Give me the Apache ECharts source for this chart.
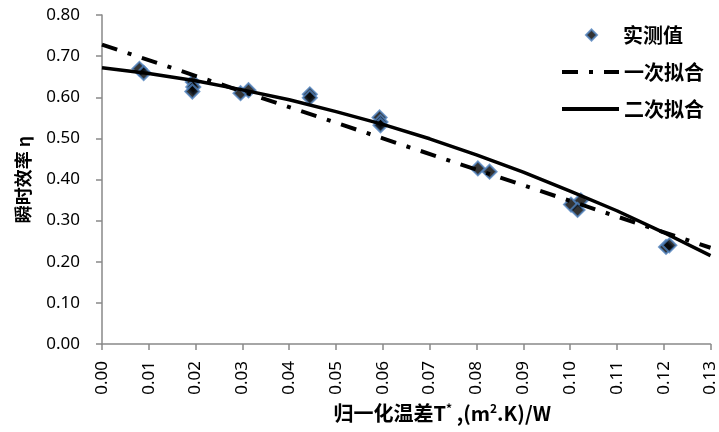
<!DOCTYPE html>
<html><head><meta charset="utf-8">
<script src="https://cdn.jsdelivr.net/npm/echarts@6/dist/echarts.min.js"></script>
<style>html,body{margin:0;padding:0;background:#fff}#c{width:719px;height:432px}</style>
</head><body><div id="c"></div>
<script>
// measured points (x, eta)
const measuredX = [0.0080,0.0089,0.0194,0.0195,0.0193,0.0296,0.0313,0.0444,0.0444,0.0593,0.0595,0.0595,0.0803,0.0828,0.1002,0.1023,0.1016,0.1205,0.1212];
const measuredY = [0.669,0.659,0.637,0.625,0.614,0.610,0.617,0.607,0.599,0.551,0.540,0.532,0.427,0.419,0.339,0.349,0.326,0.236,0.240];
// linear fit line
const linX = [0.00,0.06,0.13];
const linY = [0.728,0.500,0.234];
// quadratic fit line
const quadX = [0.00,0.01,0.02,0.03,0.04,0.05,0.06,0.07,0.08,0.09,0.10,0.11,0.12,0.13];
const quadY = [0.672,0.658,0.640,0.618,0.594,0.565,0.534,0.499,0.460,0.418,0.372,0.324,0.271,0.215];
const xTicks = ['0.00','0.01','0.02','0.03','0.04','0.05','0.06','0.07','0.08','0.09','0.10','0.11','0.12','0.13'];
const yTicks = ['0.00','0.10','0.20','0.30','0.40','0.50','0.60','0.70','0.80'];

const zip = (a,b)=>a.map((v,i)=>[v,b[i]]);
const chart = echarts.init(document.getElementById('c'));
const labelFont = {fontFamily:'Noto Sans', fontSize:17, color:'#000'};
const cjk = '"Noto Sans CJK SC", "Noto Sans", sans-serif';
const legendText = {fontFamily:cjk, fontWeight:'bold', fontSize:20, color:'#000'};
chart.setOption({
  animation:false,
  grid:{left:102,right:8,top:15,bottom:88,containLabel:false},
  legend:[{
    orient:'vertical', left:580, top:20, itemWidth:11, itemHeight:11,
    textStyle:Object.assign({padding:[0,0,0,21]}, legendText),
    data:[{name:'实测值', icon:'diamond'}]
  },{
    orient:'vertical', left:555, top:57, itemWidth:57, itemHeight:12, itemGap:17,
    textStyle:legendText,
    data:[
      {name:'一次拟合', itemStyle:{opacity:0}, lineStyle:{width:4}},
      {name:'二次拟合', itemStyle:{opacity:0}, lineStyle:{width:4}}
    ]
  }],
  xAxis:{
    type:'value', min:0, max:0.13, interval:0.01,
    axisLine:{lineStyle:{color:'#898989',width:1.5}},
    axisTick:{show:true,length:6,lineStyle:{color:'#898989',width:1.5}},
    splitLine:{show:false},
    axisLabel:Object.assign({rotate:90, margin:17, formatter:(v)=>xTicks[Math.round(v*100)]}, labelFont),
    name:'{a|归一化温差T}{s|*}{a| ,(m}{s|2}{a|.K)/W}', nameLocation:'middle', nameGap:58,
    nameTextStyle:{padding:[0,0,0,72], rich:{
      a:{fontFamily:cjk,fontWeight:'bold',fontSize:20,color:'#000'},
      s:{fontFamily:cjk,fontWeight:'bold',fontSize:12,color:'#000',verticalAlign:'top',padding:[0,0,9,0]}
    }}
  },
  yAxis:{
    type:'value', min:0, max:0.8, interval:0.1,
    axisLine:{show:true,lineStyle:{color:'#898989',width:1.5}},
    axisTick:{show:true,length:6,lineStyle:{color:'#898989',width:1.5}},
    splitLine:{show:false},
    axisLabel:Object.assign({margin:22, formatter:(v)=>yTicks[Math.round(v*10)]}, labelFont),
    name:'瞬时效率 η', nameLocation:'middle', nameGap:70, nameRotate:90,
    nameTextStyle:{fontFamily:cjk,fontWeight:'bold',fontSize:18,color:'#000'}
  },
  series:[
    {name:'实测值', type:'scatter', data:zip(measuredX,measuredY), symbol:'diamond', symbolSize:14,
     itemStyle:{color:'#000',borderColor:'#4f81bd',borderWidth:2}, z:2},
    {name:'一次拟合', type:'line', data:zip(linX,linY), symbol:'none', z:3,
     lineStyle:{color:'#000',width:4,type:[16,11,4,11]}, itemStyle:{color:'#000'}},
    {name:'二次拟合', type:'line', data:zip(quadX,quadY), symbol:'none', z:3,
     lineStyle:{color:'#000',width:3.5}, itemStyle:{color:'#000'}}
  ]
});
</script></body></html>
